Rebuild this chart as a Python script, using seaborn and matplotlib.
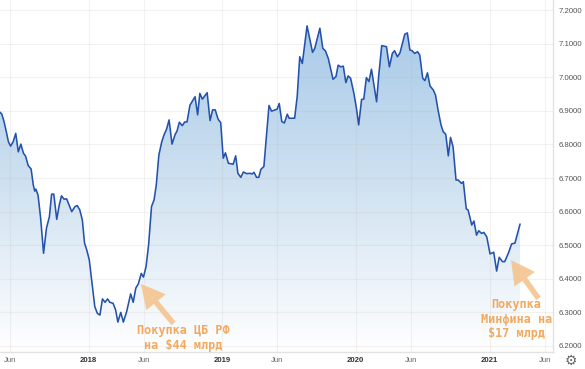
import numpy as np
import pandas as pd
import matplotlib
matplotlib.use("Agg")
import matplotlib.pyplot as plt
import matplotlib.dates as mdates
from matplotlib.colors import LinearSegmentedColormap
import seaborn as sns

START = pd.Timestamp("2017-06-01")
day_offsets = [-28,-23,-17,-10,-5,1,8,15,22,29,36,42,49,57,63,67,70,76,83,91,99,107,113,119,127,134,140,147,154,168,177,183,190,197,203,209,216,224,231,238,245,252,259,266,272,281,288,294,302,309,318,329,336,343,350,358,364,371,378,386,393,399,406,414,420,427,434,442,450,456,462,470,477,483,491,505,512,518,525,538,546,553,560,568,575,582,588,596,609,616,622,630,637,646,655,661,666,673,679,685,693,707,714,729,735,742,749,757,762,777,784,791,798,811,826,832,846,854,861,869,882,890,896,903,910,917,923,930,939,946,952,960,966,973,980,987,993,1001,1007,1015,1028,1036,1044,1050,1058,1065,1074,1078,1085,1092,1098,1105,1113,1119,1127,1133,1140,1147,1156,1162,1169,1177,1183,1190,1197,1203,1210,1218,1224,1233,1238,1246,1251,1261,1267,1274,1280,1288,1294,1302,1311,1321,1329,1336,1345,1351,1361,1370,1379,1393]
rates = [6.896,6.890,6.868,6.834,6.808,6.795,6.808,6.833,6.778,6.801,6.774,6.765,6.737,6.727,6.679,6.661,6.667,6.649,6.581,6.476,6.551,6.585,6.652,6.652,6.577,6.620,6.647,6.637,6.638,6.600,6.615,6.618,6.605,6.575,6.506,6.486,6.456,6.382,6.317,6.297,6.292,6.340,6.330,6.340,6.330,6.327,6.307,6.271,6.300,6.271,6.302,6.355,6.330,6.372,6.385,6.416,6.405,6.436,6.501,6.615,6.635,6.679,6.768,6.808,6.828,6.845,6.873,6.801,6.828,6.841,6.866,6.856,6.867,6.867,6.917,6.942,6.888,6.952,6.935,6.954,6.871,6.903,6.903,6.875,6.865,6.759,6.775,6.744,6.741,6.766,6.714,6.702,6.718,6.713,6.714,6.712,6.717,6.702,6.702,6.726,6.734,6.916,6.899,6.905,6.922,6.868,6.864,6.890,6.878,6.878,6.942,7.061,7.041,7.153,7.074,7.086,7.146,7.086,7.079,7.056,6.994,7.002,7.036,7.031,7.033,6.984,7.004,6.997,6.952,6.907,6.858,6.934,6.935,6.999,6.987,7.024,6.982,6.927,7.007,7.094,7.091,7.031,7.071,7.079,7.061,7.073,7.111,7.128,7.132,7.081,7.079,7.071,7.076,7.066,6.997,6.990,7.013,6.974,6.962,6.947,6.902,6.858,6.838,6.830,6.766,6.821,6.793,6.694,6.694,6.684,6.689,6.608,6.605,6.560,6.572,6.530,6.543,6.535,6.538,6.525,6.474,6.479,6.423,6.464,6.451,6.451,6.476,6.504,6.506,6.563]
x_tick_dates = ["2017-06-01","2018-01-01","2018-06-01","2019-01-01","2019-06-01","2020-01-01","2020-06-01","2021-01-01","2021-06-01"]
x_tick_labels = ["Jun","2018","Jun","2019","Jun","2020","Jun","2021","Jun"]
y_ticks = [6.2,6.3,6.4,6.5,6.6,6.7,6.8,6.9,7.0,7.1,7.2]
note_cbr = "Покупка ЦБ РФ\nна $44 млрд"
note_minfin = "Покупка\nМинфина на\n$17 млрд"

sns.set_theme(style="white")
plt.rcParams["font.family"] = ["Liberation Sans", "DejaVu Sans"]

W, H = 585, 369
fig = plt.figure(figsize=(W / 100, H / 100), dpi=100, facecolor="white")
ax = fig.add_axes([0, 1 - 352 / H, 553 / W, 352 / H])

df = pd.DataFrame({"date": START + pd.to_timedelta(day_offsets, unit="D"), "rate": rates})
xlim = (START + pd.Timedelta(days=-28), START + pd.Timedelta(days=1483))
ylim = (6.182, 7.230)

sns.lineplot(data=df, x="date", y="rate", estimator=None, sort=False, color="#2452ac",
             linewidth=1.15, ax=ax, zorder=4)

# vertical gradient clipped to the area under the line
poly = ax.fill_between(df["date"], df["rate"], ylim[0], facecolor="none", edgecolor="none")
cmap = LinearSegmentedColormap.from_list("area", ["#a8cae8", "#d0e2f1", "#ffffff"])
grad = np.linspace(0, 1, 256).reshape(-1, 1)
im = ax.imshow(grad, cmap=cmap, aspect="auto", zorder=1,
               extent=(mdates.date2num(xlim[0]), mdates.date2num(xlim[1]), ylim[0], 7.16),
               origin="upper")
im.set_clip_path(poly.get_paths()[0], transform=poly.get_transform())

ax.set_xlim(*xlim)
ax.set_ylim(*ylim)
ax.set_xticks(pd.to_datetime(x_tick_dates))
ax.set_xticklabels(x_tick_labels)
ax.set_yticks(y_ticks)
ax.set_yticklabels([f"{v:.4f}" for v in y_ticks])
ax.yaxis.tick_right()
ax.set_xlabel("")
ax.set_ylabel("")
ax.tick_params(axis="y", length=0, pad=4.2, labelsize=5.6, labelcolor="#555555", labelright=True, labelleft=False)
ax.tick_params(axis="x", length=0, pad=3.5, labelsize=5.6, labelcolor="#666666")
for lab in ax.get_xticklabels():
    if lab.get_text().isdigit():
        lab.set_fontweight("bold")
        lab.set_color("#333333")
ax.set_axisbelow(False)
ax.grid(True, color="#b8aca4", alpha=0.15, linewidth=0.8, zorder=2)
for side in ("top", "left"):
    ax.spines[side].set_visible(False)
for side in ("right", "bottom"):
    ax.spines[side].set_color("#e2e2e2")
    ax.spines[side].set_linewidth(1.0)
for line in ax.get_xgridlines() + ax.get_ygridlines():
    line.set_zorder(2)

def px(x, y):
    return (x / W, 1 - y / H)

ORANGE = "#f2a95e"
for tail, tip in (((173.5, 323.5), (141, 284)), ((538.5, 298.5), (511, 260))):
    ax.annotate("", xy=px(*tip), xytext=px(*tail), xycoords="figure fraction",
                textcoords="figure fraction", zorder=6,
                arrowprops=dict(arrowstyle="simple,head_length=1.7,head_width=1.8,tail_width=0.4",
                                mutation_scale=10, color="#f5c48f", alpha=0.9, lw=0,
                                shrinkA=0, shrinkB=0))

text_style = dict(ha="center", va="center", color=ORANGE, fontweight="bold", fontsize=8.5,
                  family=["DejaVu Sans Mono"], linespacing=1.15)
fig.text(*px(183, 338), note_cbr, **text_style)
fig.text(*px(516.5, 319), note_minfin, **text_style)
fig.text(*px(570.5, 361), "\u2699", ha="center", va="center", fontsize=10, color="#666666",
         family=["DejaVu Sans"])

fig.savefig("out.png", dpi=100)
